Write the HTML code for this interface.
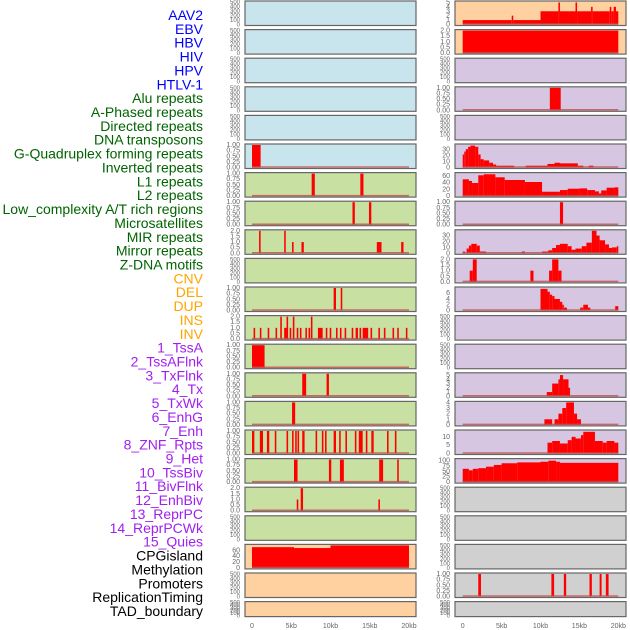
<!DOCTYPE html>
<html><head><meta charset="utf-8"><style>
html,body{margin:0;padding:0;background:#fff;}
svg{display:block;font-family:"Liberation Sans",sans-serif;}
</style></head><body>
<svg id="chart" width="630" height="630" viewBox="0 0 630 630" xmlns="http://www.w3.org/2000/svg"></svg>
<script>
const NS="http://www.w3.org/2000/svg";
const svg=document.getElementById('chart');

const labels=["AAV2","EBV","HBV","HIV","HPV","HTLV-1","Alu repeats","A-Phased repeats","Directed repeats","DNA transposons","G-Quadruplex forming repeats","Inverted repeats","L1 repeats","L2 repeats","Low_complexity A/T rich regions","Microsatellites","MIR repeats","Mirror repeats","Z-DNA motifs","CNV","DEL","DUP","INS","INV","1_TssA","2_TssAFlnk","3_TxFlnk","4_Tx","5_TxWk","6_EnhG","7_Enh","8_ZNF_Rpts","9_Het","10_TssBiv","11_BivFlnk","12_EnhBiv","13_ReprPC","14_ReprPCWk","15_Quies","CPGisland","Methylation","Promoters","ReplicationTiming","TAD_boundary"];
const labelColors=["#0000ff","#0000ff","#0000ff","#0000ff","#0000ff","#0000ff","#006400","#006400","#006400","#006400","#006400","#006400","#006400","#006400","#006400","#006400","#006400","#006400","#006400","#ffa500","#ffa500","#ffa500","#ffa500","#ffa500","#a020f0","#a020f0","#a020f0","#a020f0","#a020f0","#a020f0","#a020f0","#a020f0","#a020f0","#a020f0","#a020f0","#a020f0","#a020f0","#a020f0","#a020f0","#000","#000","#000","#000","#000"];

const xTicks=[0,5000,10000,15000,20000];
const xTickLabels=["0","5kb","10kb","15kb","20kb"];

const T500=[0,100,200,300,400,500];
const T1=[0,0.25,0.5,0.75,1];
const T2=[0,0.5,1,1.5,2];

// left column bars: [startKb, endKb, value]
const L5=[[0,1.1,1]];
const L6=[[7.6,8.0,1],[13.8,14.2,1]];
const L7=[[12.8,13.1,1],[14.9,15.2,1]];
const L8=[[0.9,1.1,2],[4.1,4.3,2],[5.1,5.3,1],[6.3,6.6,1],[15.9,16.5,1],[19.0,19.3,1]];
const L10=[[10.4,10.7,1],[11.3,11.5,1]];
const L11=[[0.2,0.4,1],[1.0,1.2,1],[2.0,2.2,1],[3.0,3.2,1],[3.6,3.8,2],[4.1,4.4,1],[4.4,4.6,2],[4.8,5.0,1],[5.2,5.4,2],[5.7,5.9,1],[6.1,6.3,1],[6.8,7.0,1],[7.2,7.4,1],[7.5,7.7,2],[8.4,9.0,1],[9.4,9.6,1],[9.9,10.1,1],[10.7,10.9,1],[11.2,11.4,1],[11.8,12.0,1],[12.7,12.9,1],[13.2,13.5,1],[13.7,13.9,1],[14.1,14.8,1],[15.1,15.3,1],[16.1,16.3,1],[16.8,17.0,1],[17.9,18.1,1],[18.5,18.7,1],[19.6,19.8,1]];
const L12=[[0,1.6,1]];
const L13=[[6.4,6.9,1],[9.5,9.8,1]];
const L14=[[5.1,5.5,1]];
const L15=[[0,0.3,1],[1.0,1.4,1],[1.9,2.2,1],[2.9,3.1,1],[4.4,4.6,1],[5.1,5.3,1],[5.5,5.7,1],[5.8,6.0,1],[6.4,6.7,1],[8.1,8.3,1],[8.9,9.1,1],[9.3,9.5,1],[10.4,10.7,1],[11.1,11.3,1],[11.9,12.1,1],[13.1,13.3,1],[13.6,14.1,1],[14.5,14.7,1],[15.2,15.5,1],[17.2,17.4,1],[18.2,18.4,1]];
const L16=[[5.35,5.8,1],[9.8,10.1,1],[11.2,11.7,1],[16.2,16.7,1],[18.5,18.7,1]];
const L17=[[5.7,5.9,1],[6.2,6.5,2],[16.1,16.3,1]];
const L19=[[0,5.35,71],[5.35,10,68],[10,20,77]];

// right column bars
const R0=[[0,6.3,1],[6.3,6.5,2],[6.5,10,1],[10,12.3,3],[12.3,12.5,5],[12.5,14.5,3],[14.5,14.7,5],[14.7,16.5,3],[16.5,16.7,4],[16.7,18.9,3],[18.9,19.1,4],[19.1,19.4,3],[19.4,19.7,4],[19.7,20,3]];
const R1=[[0,20,2]];
const R3=[[11.2,12.6,1]];
const R5=[[0,0.2,22],[0.2,0.4,27],[0.4,0.7,31],[0.7,1.0,35],[1.0,1.6,37],[1.6,2.0,35],[2.0,2.3,22],[2.3,2.7,14],[2.7,3.4,12],[3.4,3.9,8],[3.9,4.3,5],[4.3,6.6,3],[8.1,10.9,3],[10.9,11.8,6],[11.8,12.5,8],[12.5,14.8,7],[14.8,15.5,3],[16.2,16.8,3]];
const R6=[[0,0.8,50],[0.8,1.2,45],[1.2,2.0,39],[2.0,2.7,62],[2.7,4.2,65],[4.2,5.4,56],[5.4,8.0,48],[8.0,10.2,42],[10.2,12.5,13],[12.5,13.5,18],[13.5,15.0,22],[15.0,16.0,23],[16.0,17.0,18],[17.0,17.5,14],[17.5,17.8,8],[17.8,18.5,17],[18.5,19.5,25],[19.5,20,26]];
const R7=[[12.5,12.9,1]];
const R8=[[0,0.3,3],[0.5,0.8,8],[0.8,1.1,13],[1.1,1.8,16],[1.8,2.2,13],[2.2,3.0,3],[7.6,8.0,3],[10.2,11.0,3],[11.0,11.5,5],[11.5,12.0,9],[12.0,12.5,14],[12.5,13.5,16],[13.5,14.0,12],[14.0,14.5,6],[14.5,15.3,8],[15.3,15.9,12],[15.9,16.6,18],[16.6,17.2,38],[17.2,17.6,30],[17.6,18.3,22],[18.3,18.8,15],[18.8,19.2,9],[19.2,19.8,10],[19.8,20,12]];
const R9=[[0.9,1.3,1],[1.3,1.8,2],[8.7,9.1,1],[11.1,11.5,1],[11.5,12.3,2],[12.3,12.7,1]];
const R10=[[10.0,10.9,7.5],[10.9,11.2,6.5],[11.2,11.5,5.5],[11.5,11.8,5],[11.8,12.5,4],[12.5,12.8,3],[12.8,13.0,2],[13.0,13.4,1],[15.1,15.5,1],[15.5,16.1,2],[16.1,16.4,1],[19.6,20,1.5]];
const R13=[[10.8,11.5,1],[11.5,12.3,3],[12.3,12.5,4],[12.5,12.9,5],[12.9,13.6,4],[13.6,13.8,2]];
const R14=[[10.5,11.5,1],[11.8,12.3,1],[12.3,12.8,2],[12.8,13.3,3],[13.3,14.3,4],[14.3,14.7,2],[14.7,15.2,1]];
const R15=[[10.9,11.5,6.5],[11.5,12.5,7.5],[12.5,13.5,6],[13.5,14.0,8],[14.0,14.5,10],[14.5,15.2,9],[15.2,15.5,11],[15.5,17.0,13],[17.0,18.0,7.5],[18.0,18.5,6.5],[18.5,19.5,7.5],[19.5,20,6.5]];
const R16=[[0,0.8,62],[0.8,1.3,55],[1.3,2.0,62],[2.0,3.0,65],[3.0,4.0,72],[4.0,5.0,80],[5.0,7.0,88],[7.0,10.0,92],[10.0,11.0,95],[11.0,12.0,100],[12.0,12.5,95],[12.5,20,90]];
const R20=[[2.0,2.35,1],[11.4,11.75,1],[13.0,13.3,1],[16.3,16.6,1],[17.6,17.85,1],[18.4,18.75,1]];

const C={blue:"#c8e4ec",green:"#c8e0a2",orange:"#ffd1a0",purple:"#d6c6e2",gray:"#d0d0d0"};
// [bg, ymax, ticks, tickLabels, bars]
const left=[
 ["blue",500,T500,null,null],["blue",500,T500,null,null],["blue",500,T500,null,null],["blue",500,T500,null,null],["blue",500,T500,null,null],
 ["blue",1,T1,null,L5],["green",1,T1,null,L6],["green",1,T1,null,L7],["green",2,T2,null,L8],["green",500,T500,null,null],
 ["green",1,T1,null,L10],["green",2,T2,null,L11],["green",1,T1,null,L12],["green",1,T1,null,L13],["green",1,T1,null,L14],
 ["green",1,T1,null,L15],["green",1,T1,null,L16],["green",2,T2,null,L17],["green",500,T500,null,null],
 ["orange",77,[0,20,40,60],null,L19],["orange",500,T500,null,null],["orange",500,T500,null,null]];
const right=[
 ["orange",5.1,[0,1,2,3,4,5],null,R0],["orange",2,T2,null,R1],["purple",500,T500,null,null],["purple",1,T1,null,R3],["purple",500,T500,null,null],
 ["purple",38,[0,10,20,30],null,R5],["purple",67,[0,20,40,60],null,R6],["purple",1,T1,null,R7],["purple",38,[0,10,20,30],null,R8],["purple",2,T2,null,R9],
 ["purple",7.8,[0,2,4,6],null,R10],["purple",500,T500,null,null],["purple",500,T500,null,null],["purple",5.3,[0,1,2,3,4,5],null,R13],["purple",4,[0,1,2,3,4],null,R14],
 ["purple",13.5,[0,5,10],null,R15],["purple",105,[0,25,50,75,100],null,R16],["gray",500,T500,null,null],["gray",500,T500,null,null],["gray",500,T500,null,null],
 ["gray",1,T1,null,R20],["gray",500,T500,null,null]];

function el(tag,attrs,parent){const e=document.createElementNS(NS,tag);for(const k in attrs)e.setAttribute(k,attrs[k]);(parent||svg).appendChild(e);return e;}

// labels
labels.forEach((t,i)=>{
  const e=el('text',{x:203,y:15+i*13.86+5,'text-anchor':'end','font-size':14,fill:labelColors[i]});
  e.textContent=t;
  
  
});

function fmt(v,ticks){
  if(ticks===T1)return v.toFixed(2);
  if(ticks===T2)return v.toFixed(1);
  return String(v);
}

function drawCol(specs,px0,pw,dx0,dx1,tickX,colName){
  const sx=kb=>dx0+(kb/20)*(dx1-dx0);
  specs.forEach((s,i)=>{
    const top=1+i*28.6, h=(i===21)?15:24.5, bot=top+h;
    const g=el('g',{});
    
    
    el('rect',{x:px0,y:top,width:pw,height:h,fill:C[s[0]],stroke:'#666','stroke-width':1.2},g);
    const ymax=s[1];
    const sy=v=>bot-1-(v/ymax)*(h-2);
    s[2].forEach(tv=>{
      const t=el('text',{x:tickX,y:sy(tv)+2,'text-anchor':'end','font-size':(s[2]===T500?6:7),fill:'#666'},g);
      t.textContent=fmt(tv,s[2]);
      
      
    });
    if(s[4]){
      s[4].forEach(b=>{
        const r=el('rect',{x:sx(b[0]),y:sy(b[2]),width:Math.max(1.2,sx(b[1])-sx(b[0])),height:sy(0)-sy(b[2]),fill:'#ff0000'},g);
        
        
      });
      const bl=el('line',{x1:sx(0),x2:sx(20),y1:bot-1.5,y2:bot-1.5,stroke:'#c0504d','stroke-width':1.5,'stroke-opacity':0.8},g);
      
      
    }
  });
  xTicks.forEach((v,j)=>{
    const t=el('text',{x:sx(v/1000),y:628,'text-anchor':'middle','font-size':7,fill:'#666'});
    t.textContent=xTickLabels[j];
    
    
  });
}
drawCol(left,245,171,252,409,240,'left');
drawCol(right,455,171,462.7,618.3,450,'right');
</script>
</body></html>
